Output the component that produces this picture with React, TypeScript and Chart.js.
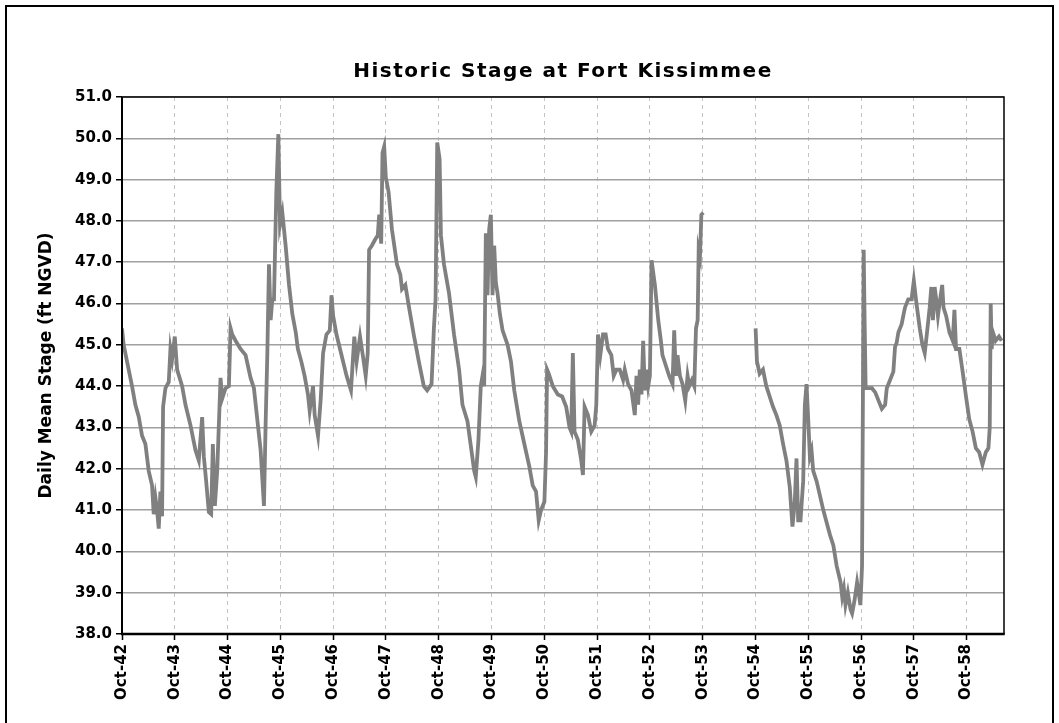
import React, { useEffect, useRef } from 'react';
import { Chart, registerables } from 'chart.js';

Chart.register(...registerables);

// months since Oct 1942
const months: number[] = [
  0, 0.38, 1.52, 2.28, 3.04, 3.8, 4.56, 5.32, 6.07, 6.83, 7.21, 7.6, 7.97, 8.35, 8.73, 9.11, 9.34, 9.87, 10.63, 11.01, 11.39, 12.0,
  12.53, 13.67, 14.43, 15.57, 16.7, 17.46, 18.22, 18.6, 19.13, 19.74, 20.27, 20.65, 21.11, 21.64, 22.4, 22.78, 23.54, 24.3,
  24.68, 25.06, 25.82, 26.95, 28.09, 29.23, 29.99, 30.75, 31.51, 32.27, 32.65, 33.03, 33.41, 33.79, 34.17, 34.55, 35.08, 35.54,
  35.92, 36.45, 37.2, 37.97, 38.72, 39.5, 39.98, 40.75, 41.51, 42.27, 42.66, 43.42, 43.8, 44.56, 45.18, 45.71, 46.47, 47.24,
  47.62, 48.0, 48.76, 49.91, 51.05, 52.05, 52.81, 53.34, 54.11, 54.87, 55.4, 55.86, 56.17, 56.78, 57.54, 58.15, 58.46, 58.92,
  59.22, 59.6, 59.98, 60.6, 61.36, 62.5, 63.27, 63.65, 64.41, 65.18, 66.32, 67.47, 68.61, 69.37, 70.37, 70.9, 71.28, 71.66,
  72.2, 72.5, 73.19, 74.34, 75.48, 76.63, 77.39, 78.53, 79.3, 80.06, 80.42, 81.03, 81.56, 81.95, 82.33, 82.71, 83.09, 83.47,
  83.85, 84.23, 84.61, 84.99, 85.37, 85.9, 86.51, 87.65, 88.41, 89.17, 90.32, 91.46, 92.6, 93.36, 94.12, 94.73, 95.26, 96.02,
  96.4, 96.63, 97.01, 97.93, 99.07, 100.06, 100.97, 101.73, 102.11, 102.49, 102.87, 103.63, 104.4, 104.78, 105.16, 105.92,
  106.68, 107.44, 107.82, 108.2, 108.73, 109.34, 109.95, 110.48, 111.24, 111.78, 112.39, 113.15, 113.91, 114.29, 115.05,
  115.81, 116.57, 116.95, 117.33, 117.71, 118.09, 118.47, 118.85, 119.24, 119.62, 120.0, 120.38, 121.14, 121.9, 122.5,
  122.86, 123.62, 124.38, 125.15, 125.53, 125.91, 126.29, 126.82, 127.43, 128.04, 128.57, 128.95, 129.56, 130.1, 130.48,
  130.86, 131.09, 131.39, 131.7, 132.15, 138, 144.03, 144.34, 144.95, 145.71, 146.47, 147.23, 147.99, 148.76, 149.52, 150.28,
  151.04, 151.8, 152.41, 152.94, 153.33, 153.71, 154.24, 154.85, 155.23, 155.61, 155.99, 156.37, 156.75, 157.13, 157.9,
  158.66, 159.42, 160.18, 160.94, 161.7, 162.46, 163.35, 163.72, 164.1, 164.47, 165.0, 165.6, 165.97, 166.5, 167.1, 167.47,
  167.85, 168.23, 168.6, 168.83, 169.05, 169.73, 170.48, 171.23, 171.98, 172.73, 173.48, 173.85, 174.6, 175.35, 175.73,
  176.1, 176.48, 177.23, 177.98, 178.73, 179.48, 180.0, 180.6, 181.35, 181.95, 182.48, 183.0, 183.6, 183.98, 184.35, 184.73,
  185.1, 185.48, 185.85, 186.45, 186.75, 187.35, 188.1, 188.85, 189.23, 189.6, 190.35, 191.1, 191.86, 192.6, 193.36, 194.1,
  194.86, 195.6, 196.36, 196.96, 197.26, 197.48, 197.7, 198.0, 198.6, 199.36, 199.96,
];

// daily mean stage, ft NGVD (null = no record)
const stage: (number | null)[] = [
  45.4, 45.0, 44.4, 44.0, 43.55, 43.26, 42.8, 42.6, 41.95, 41.6, 40.9, 41.3, 41.0, 40.55, 41.45, 40.85, 43.5, 43.95, 44.1, 44.9, 44.65, 45.2,
  44.4, 44.0, 43.55, 43.05, 42.45, 42.2, 43.25, 42.3, 41.7, 40.95, 40.9, 42.6, 41.1, 41.95, 44.2, 43.7, 43.95, 44.0,
  45.4, 45.25, 45.1, 44.9, 44.75, 44.2, 43.95, 43.2, 42.45, 41.1, 43.1, 44.75, 46.95, 45.6, 46.1, 46.1, 48.7, 50.1,
  47.9, 48.2, 47.4, 46.45, 45.75, 45.3, 44.9, 44.6, 44.25, 43.8, 43.4, 44.0, 43.3, 42.8, 43.7, 44.8, 45.25, 45.35,
  46.2, 45.7, 45.25, 44.75, 44.25, 43.9, 45.2, 44.6, 45.2, 44.65, 44.25, 44.8, 47.3, 47.4, 47.55, 47.65, 48.15, 47.45,
  49.65, 49.8, 49.05, 48.7, 47.8, 46.95, 46.7, 46.35, 46.45, 45.95, 45.25, 44.6, 44.0, 43.9, 44.05, 45.4, 46.1, 49.9,
  49.5, 47.65, 46.95, 46.25, 45.25, 44.4, 43.55, 43.15, 42.55, 41.95, 41.8, 42.7, 44.0, 44.25, 44.0, 47.7, 46.2, 47.8,
  48.15, 46.2, 47.4, 46.5, 46.25, 45.75, 45.35, 45.0, 44.6, 43.9, 43.15, 42.6, 42.05, 41.6, 41.45, 40.75, 41.0, 41.2,
  42.4, 44.4, 44.3, 44.0, 43.8, 43.75, 43.5, 43.0, 42.9, 44.8, 42.9, 42.7, 42.2, 41.85, 43.5, 43.3,
  42.9, 43.05, 43.55, 45.25, 44.75, 45.25, 45.25, 44.9, 44.75, 44.25, 44.4, 44.4, 44.15, 44.4, 44.05,
  43.9, 43.3, 44.25, 43.55, 44.4, 43.8, 45.1, 43.9, 44.4, 44.0, 44.25, 47.05, 46.45, 45.6, 45.1,
  44.75, 44.5, 44.25, 44.05, 45.35, 44.25, 44.75, 44.25, 44.05, 43.65, 44.25, 44.0, 44.15, 44.0, 45.4,
  45.6, 47.3, 47.15, 48.15, 48.2, null, 45.4, 44.6, 44.3, 44.4, 44.0, 43.75, 43.5, 43.3, 43.05, 42.6,
  42.2, 41.55, 40.6, 41.2, 42.25, 40.75, 40.75, 41.7, 43.55, 44.05, 43.2, 42.3, 42.45, 41.95, 41.7,
  41.35, 41.0, 40.7, 40.4, 40.15, 39.65, 39.25, 38.9, 39.1, 38.7, 39.0, 38.6, 38.5, 38.8, 39.25, 39.0,
  38.7, 39.65, 47.3, 45.5, 43.95, 43.95, 43.95, 43.85, 43.65, 43.45, 43.55, 43.95, 44.15, 44.35, 44.95,
  45.05, 45.3, 45.5, 45.9, 46.1, 46.1, 46.55, 46.0, 45.4, 45.0, 44.8, 45.3, 45.9, 46.4, 45.6, 46.4,
  46.1, 45.7, 46.0, 46.45, 45.9, 45.7, 45.3, 45.1, 45.85, 44.9, 44.9, 44.35, 43.75, 43.2, 42.9, 42.5,
  42.4, 42.1, 42.4, 42.5, 43.0, 46.0, 44.9, 45.3, 45.1, 45.2, 45.1,
];

const xTickLabels: string[] = [
  'Oct-42', 'Oct-43', 'Oct-44', 'Oct-45', 'Oct-46', 'Oct-47', 'Oct-48', 'Oct-49', 'Oct-50',
  'Oct-51', 'Oct-52', 'Oct-53', 'Oct-54', 'Oct-55', 'Oct-56', 'Oct-57', 'Oct-58',
];
const yTickValues: number[] = [38, 39, 40, 41, 42, 43, 44, 45, 46, 47, 48, 49, 50, 51];

const TITLE = 'Historic Stage at Fort Kissimmee';
const Y_TITLE = 'Daily Mean Stage (ft NGVD)';

const FONT = "'DejaVu Sans', 'Liberation Sans', Arial, sans-serif";

export default function App() {
  const ref = useRef<HTMLCanvasElement>(null);

  useEffect(() => {
    if (!ref.current) return;
    const framePlugin = {
      id: 'frame',
      afterDraw(chart: any) {
        const { ctx, chartArea: a } = chart;
        ctx.save();
        // title centred over the plot area
        ctx.fillStyle = '#000';
        ctx.font = `bold 20px ${FONT}`;
        try {
          (ctx as any).letterSpacing = '1.5px';
        } catch (e) {}
        ctx.textAlign = 'center';
        ctx.textBaseline = 'middle';
        ctx.fillText(TITLE, (a.left + a.right) / 2, 72);
        try {
          (ctx as any).letterSpacing = '0px';
        } catch (e) {}

        ctx.strokeStyle = '#000';
        ctx.lineWidth = 1.5;
        ctx.beginPath();
        ctx.moveTo(a.left, a.top);
        ctx.lineTo(a.right, a.top);
        ctx.lineTo(a.right, a.bottom);
        ctx.stroke();
        ctx.lineWidth = 2;
        ctx.beginPath();
        ctx.moveTo(a.left, a.top);
        ctx.lineTo(a.left, a.bottom);
        ctx.stroke();
        ctx.lineWidth = 2.5;
        ctx.beginPath();
        ctx.moveTo(a.left - 1, a.bottom);
        ctx.lineTo(a.right + 0.75, a.bottom);
        ctx.stroke();
        ctx.restore();
      },
    };

    const chart = new Chart(ref.current, {
      type: 'line',
      data: {
        datasets: [
          {
            data: months.map((m, i) => ({ x: m, y: stage[i] })),
            borderColor: '#808080',
            borderWidth: 3.8,
            pointRadius: 0,
            tension: 0,
            spanGaps: false,
          },
        ],
      },
      options: {
        responsive: false,
        animation: false,
        layout: { padding: { left: 0, top: 97, right: 55, bottom: 0 } },
        plugins: {
          legend: { display: false },
          tooltip: { enabled: false },
          title: { display: false },
        },
        scales: {
          x: {
            type: 'linear',
            min: 0,
            max: 200.5,
            afterBuildTicks: (axis: any) => {
              axis.ticks = xTickLabels.map((_, i) => ({ value: i * 12 }));
            },
            afterFit: (axis: any) => {
              axis.height = 89;
            },
            ticks: {
              autoSkip: false,
              minRotation: 90,
              maxRotation: 90,
              padding: 4,
              color: '#000',
              font: { family: FONT, size: 15, weight: 'bold' },
              callback: (v: any) => xTickLabels[Math.round(Number(v) / 12)] ?? '',
            },
            grid: { color: '#c4c4c4', lineWidth: 1, tickColor: '#000', tickLength: 6, tickWidth: 1.5 },
            border: { display: false, dash: [4, 4] },
          },
          y: {
            min: 38,
            max: 51,
            afterBuildTicks: (axis: any) => {
              axis.ticks = yTickValues.map((v) => ({ value: v }));
            },
            afterFit: (axis: any) => {
              axis.width = 122;
            },
            ticks: {
              padding: 4,
              color: '#000',
              font: { family: FONT, size: 15, weight: 'bold' },
              callback: (v: any) => Number(v).toFixed(1),
            },
            grid: { color: '#a0a0a0', lineWidth: 1.5, tickColor: '#000', tickLength: 6, tickWidth: 1.5 },
            border: { display: false },
            title: {
              display: true,
              text: Y_TITLE,
              color: '#000',
              font: { family: FONT, size: 17, weight: 'bold', lineHeight: 1.2 },
              padding: { top: 36, bottom: 0 },
            },
          },
        },
      },
      plugins: [framePlugin],
    } as any);
    return () => chart.destroy();
  }, []);

  return (
    <div>
      <div
        style={{
          position: 'absolute',
          left: 5,
          top: 5,
          width: 1049,
          height: 718,
          boxSizing: 'border-box',
          borderTop: '2px solid #000',
          borderLeft: '2px solid #000',
          borderRight: '2px solid #000',
        }}
      />
      <canvas
        ref={ref}
        width={1059}
        height={723}
        style={{ position: 'absolute', left: 0, top: 0, display: 'block' }}
      />
    </div>
  );
}
